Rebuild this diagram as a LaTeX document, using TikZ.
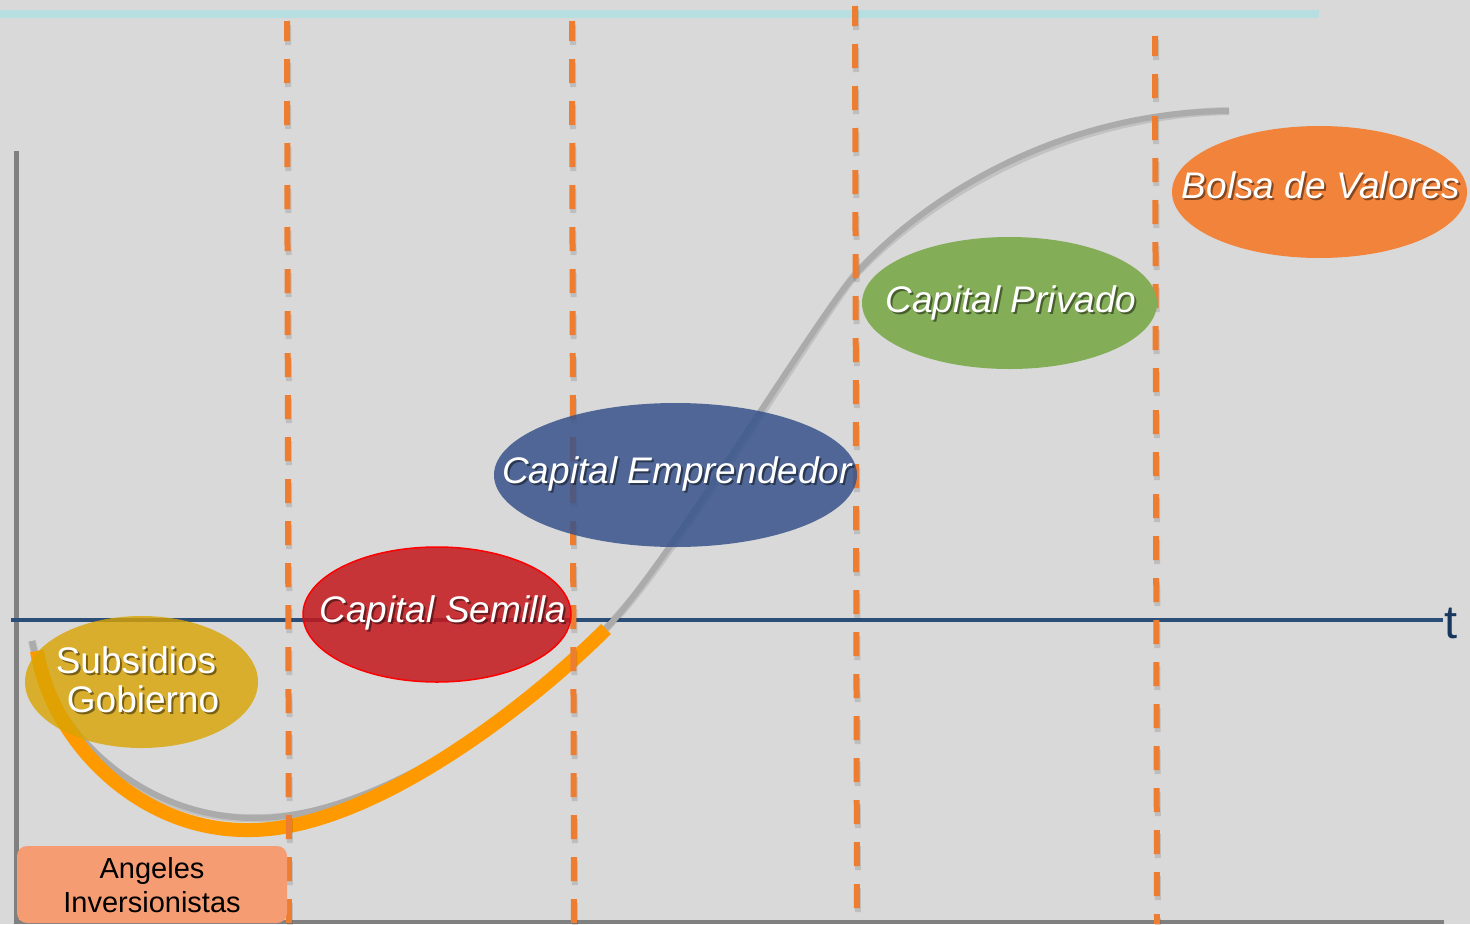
\documentclass[tikz,border=0pt]{standalone}
\usepackage{fontspec}
\setmainfont{Liberation Sans}
\usetikzlibrary{shapes.geometric}
\definecolor{bgc}{HTML}{D9D9D9}
\definecolor{cyanl}{HTML}{B7DEE1}
\definecolor{dashc}{HTML}{ED7D31}
\definecolor{curveg}{HTML}{ABABAB}
\definecolor{curveo}{HTML}{FF9900}
\definecolor{axisb}{HTML}{2A4E78}
\definecolor{axisg}{HTML}{808080}
\definecolor{tcol}{HTML}{17375E}
\definecolor{subc}{HTML}{D9A403}
\definecolor{semc}{HTML}{C3181C}
\definecolor{empc}{HTML}{37538B}
\definecolor{privc}{HTML}{83AD57}
\definecolor{bolc}{HTML}{F2833A}
\definecolor{angc}{HTML}{F69C72}
\newcommand\shtext[4]{%
  \node[#1, text=black, text opacity=0.45, xshift=2pt, yshift=-2pt] (#2sh) at (#3) {#4};
  \node[#1] (#2) at (#3) {#4};}
\begin{document}
\begin{tikzpicture}[x=1pt,y=-1pt,
  blob/.style={ellipse, inner sep=0pt, draw=none},
  lblit/.style={font=\fontsize{37}{40}\selectfont\itshape, text=white, inner sep=0pt, anchor=base},
  lblup/.style={font=\fontsize{37}{40}\selectfont, text=white, inner sep=0pt, anchor=base},
  lblang/.style={font=\fontsize{29}{32}\selectfont, text=black, inner sep=0pt, anchor=base},
  dashline/.style={draw=dashc, line width=6pt, dash pattern=on 24pt off 18pt, dash phase=4pt},
  dashshadow/.style={draw=black, opacity=0.12, line width=6pt, dash pattern=on 24pt off 18pt, dash phase=4pt},
]
\useasboundingbox (0,0) rectangle (1470,924);
\fill[bgc] (0,0) rectangle (1470,924);
% top cyan line
\draw[cyanl, line width=8pt] (0,14) -- (1319,14);
% axes
\draw[axisg, line width=5pt] (16,151) -- (16,922);
\draw[axisg, line width=4pt] (14,922) -- (1444,922);
\draw[axisb, line width=4pt] (11,620) -- (1443,620);
% gray S-curve with shadow
\coordinate (g0) at (32,641);
\coordinate (g1) at (255,818);
\coordinate (g2) at (612,622);
\coordinate (g3) at (855,275);
\coordinate (g4) at (1229,111);
\draw[black, opacity=0.10, line width=8pt, shift={(1,3)}]
  (g0) .. controls (50,730) and (140,818) .. (g1)
  .. controls (380,818) and (540,700) .. (g2)
  .. controls (672,557) and (815,320) .. (g3)
  .. controls (914,207) and (1050,112) .. (g4);
\draw[curveg, line width=6pt]
  (g0) .. controls (50,730) and (140,818) .. (g1)
  .. controls (380,818) and (540,700) .. (g2)
  .. controls (672,557) and (815,320) .. (g3)
  .. controls (914,207) and (1050,112) .. (g4);
% orange curve
\coordinate (o0) at (37,651);
\coordinate (o1) at (250,830);
\coordinate (o2) at (606,629);
\draw[curveo, line width=14pt]
  (o0) .. controls (52,742) and (140,832) .. (o1)
  .. controls (370,830) and (530,705) .. (o2);
% dashed verticals
\foreach \xa/\xb/\ya in {287/289/21, 572/574/21, 855/857/6, 1155/1157/36}{
  \draw[dashshadow] (\xa+1,\ya+4) -- (\xb+1,928);
  \draw[dashline] (\xa,\ya) -- (\xb,924);
}
% ellipses
\node[blob, fill=subc, fill opacity=0.8, minimum width=233pt, minimum height=132pt] (sub) at (141.5,682) {};
\node[blob, fill=semc, fill opacity=0.85, draw=red, line width=1.5pt, minimum width=268pt, minimum height=135pt] (sem) at (437,614.5) {};
\node[blob, fill=empc, fill opacity=0.85, minimum width=363pt, minimum height=144pt] (emp) at (675.5,475) {};
\node[blob, fill=privc, minimum width=295pt, minimum height=132pt] (priv) at (1009.5,303) {};
\node[blob, fill=bolc, minimum width=295pt, minimum height=132pt] (bol) at (1319.5,192) {};
% labels
\shtext{lblup}{subA}{136,673}{Subsidios}
\shtext{lblup}{subB}{143,712}{Gobierno}
\shtext{lblit}{semT}{443,622}{Capital Semilla}
\shtext{lblit}{empT}{677,483}{Capital Emprendedor}
\shtext{lblit}{privT}{1011,312}{Capital Privado}
\shtext{lblit}{bolT}{1321,198}{Bolsa de Valores}
% Angeles box
\node[fill=angc, rounded corners=10pt, minimum width=270pt, minimum height=77pt, inner sep=0pt] (ang) at (152,884.5) {};
\node[lblang] (angA) at (152,878) {Angeles};
\node[lblang] (angB) at (152,912) {Inversionistas};
% t label
\node[font=\fontsize{47}{50}\selectfont, text=tcol, anchor=base west, inner sep=0pt] (tlab) at (1444,638) {t};
\end{tikzpicture}
\end{document}
